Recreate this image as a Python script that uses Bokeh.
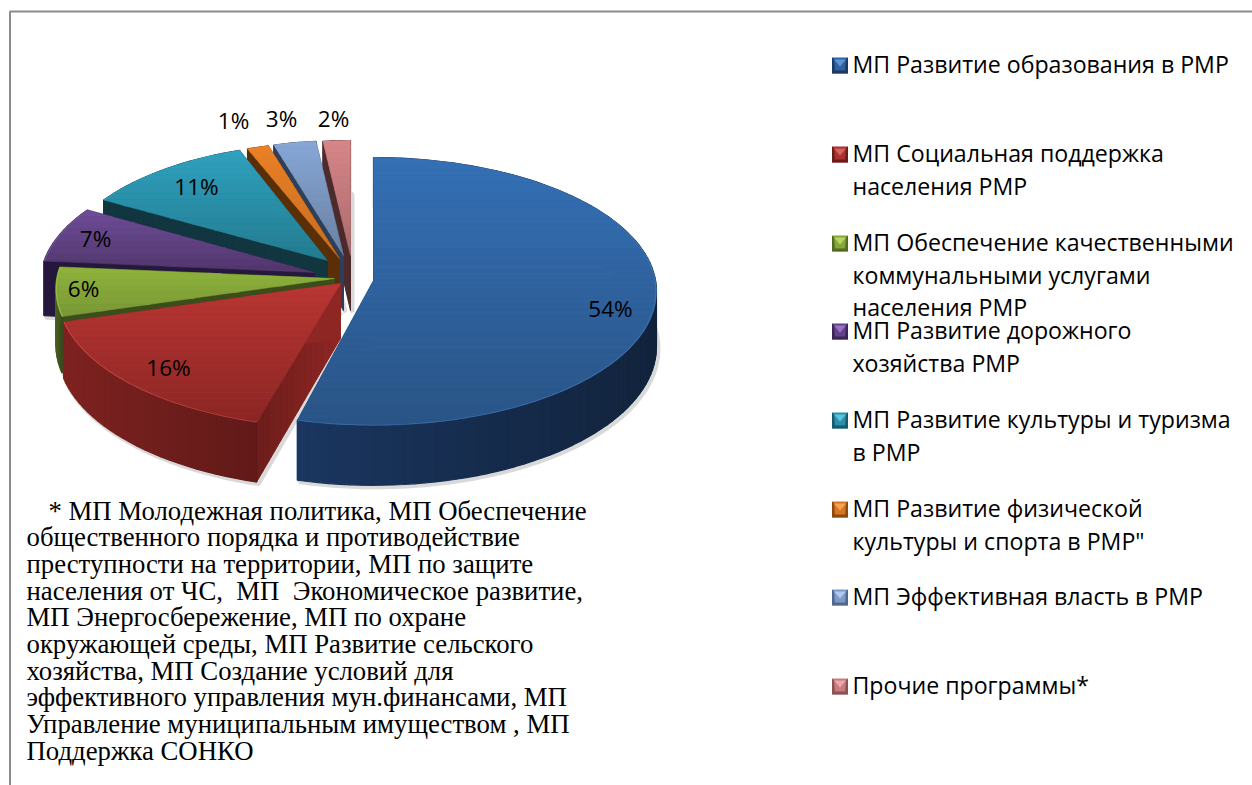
import math
from bokeh.plotting import figure
from bokeh.models import Range1d, ColumnDataSource
from bokeh.core.properties import value
from bokeh.embed import file_html
from bokeh.resources import INLINE

# ---------- data ----------
categories = ["МП Развитие образования в РМР", "МП Социальная поддержка населения РМР",
              "МП Обеспечение качественными коммунальными услугами населения РМР",
              "МП Развитие дорожного хозяйства РМР", "МП Развитие культуры и туризма в РМР",
              "МП Развитие физической культуры и спорта в РМР\"", "МП Эффективная власть в РМР",
              "Прочие программы*"]
shares = [54, 16, 6, 7, 11, 1.4, 2.8, 1.8]

legend_lines = [["МП Развитие образования в РМР"],
                ["МП Социальная поддержка", "населения РМР"],
                ["МП Обеспечение качественными", "коммунальными услугами", "населения РМР"],
                ["МП Развитие дорожного", "хозяйства РМР"],
                ["МП Развитие культуры и туризма", "в РМР"],
                ["МП Развитие физической", "культуры и спорта в РМР\""],
                ["МП Эффективная власть в РМР"],
                ["Прочие программы*"]]
note_lines = ["* МП Молодежная политика, МП Обеспечение",
              "общественного порядка и противодействие",
              "преступности на территории, МП по защите",
              "населения от ЧС,\u00a0 МП\u00a0 Экономическое развитие,",
              "МП Энергосбережение, МП по охране",
              "окружающей среды, МП Развитие сельского",
              "хозяйства, МП Создание условий для",
              "эффективного управления мун.финансами, МП",
              "Управление муниципальным имуществом , МП",
              "Поддержка СОНКО"]

# ---------- layout and style ----------
apex_x = [373, 340, 334, 314, 327, 339, 343, 350]
apex_y = [280, 283, 278, 272, 260, 258, 255, 255]
radius = [1.0, 1.0, 0.985, 0.97, 0.95, 0.95, 0.93, 0.93]
turn = [0, 1.5, 1.5, 1.5, 1.0, 0, 0, 0]
label_x = [610, 168, 83, 95, 196, 233, 281, 333]
label_y = [308, 367, 288, 238, 186, 120, 118, 118]
top_a = ["#3470B5", "#B83633", "#8EB13C", "#6C4C96", "#2FA0BE", "#E98026", "#86A6D6", "#D68587"]
top_b = ["#2A5486", "#8C2624", "#7A9936", "#52376D", "#237C90", "#C86E20", "#6A81A2", "#A96B6D"]
rim = ["#3872B2", "#C04540", "#98BA48", "#74549A", "#34A4C0", "#EE8A30", "#90AEDC", "#DC9092"]
wall_a = ["#1A3660", "#7E2220", "#4A5F22", "#25183C", "#123640", "#5A2F08", "#2F3F5A", "#4D2B2C"]
wall_b = ["#12233C", "#611A18", "#3A4A1A", "#25183C", "#123640", "#5A2F08", "#2F3F5A", "#4D2B2C"]
edge_a = ["#1A3660", "#8E2623", "#3C4D1C", "#25183C", "#113640", "#5A2F08", "#2F3F5A", "#4D2B2C"]
edge_b = ["#1A3660", "#6B1D1B", "#3C4D1C", "#25183C", "#113640", "#5A2F08", "#2F3F5A", "#4D2B2C"]
sw_top = ["#5B93D3", "#D9605C", "#B6D65E", "#9A74C4", "#56C4DE", "#F5A550", "#B0C8EC", "#EAAAAC"]
sw_mid = ["#2F62A0", "#A8302E", "#84A63A", "#63428A", "#2A90AA", "#D87520", "#7C9AC8", "#C87C7E"]
sw_bot = ["#1C3A64", "#6A1C1A", "#556B24", "#3A2654", "#175A6C", "#8A4A10", "#50688E", "#8A5456"]
legend_y = [65, 154, 243, 331, 420, 509, 597, 686]
legend_step = [0, 33, 32]

A, B, P, D = 282.0, 133.0, 0.082, 55.0


def hex2rgb(c):
    return tuple(int(c[i:i + 2], 16) for i in (1, 3, 5))


def mix(a, b, t):
    t = max(0.0, min(1.0, t))
    ra, rb = hex2rgb(a), hex2rgb(b)
    return "#%02x%02x%02x" % tuple(round(x + (y - x) * t) for x, y in zip(ra, rb))


def pt(ax, ay, deg, r, low=0.0):
    th = math.radians(deg)
    u, v = r * math.sin(th), r * math.cos(th)
    w = 1 + P * v
    return ax + A * u / w, ay - B * v / w + D * low / w


def clip_band(poly, y0, y1):
    def clip(pts, keep, cross):
        out = []
        for i, p in enumerate(pts):
            q = pts[(i + 1) % len(pts)]
            kp, kq = keep(p), keep(q)
            if kp:
                out.append(p)
            if kp != kq:
                t = (cross - p[1]) / (q[1] - p[1])
                out.append((p[0] + (q[0] - p[0]) * t, cross))
        return out
    res = clip(poly, lambda p: p[1] >= y0, y0)
    if res:
        res = clip(res, lambda p: p[1] <= y1, y1)
    return res


xs, ys, cols, lws = [], [], [], []


def add(poly, color, lw=0.5):
    xs.append([p[0] for p in poly])
    ys.append([p[1] for p in poly])
    cols.append(color)
    lws.append(lw)


shadow_x, shadow_y = [], []
angles = []
acc = 0.0
for i, s in enumerate(shares):
    angles.append((acc * 3.6 + turn[i], (acc + s) * 3.6 + turn[i]))
    acc += s


def arc(i, low, step=1.0):
    a0, a1 = angles[i]
    n = max(2, int((a1 - a0) / step) + 1)
    return [pt(apex_x[i], apex_y[i], a0 + (a1 - a0) * k / (n - 1), radius[i], low) for k in range(n)]


for i in range(len(shares)):
    bottom = [(apex_x[i], apex_y[i] + D)] + arc(i, 1.0)
    bottom.append(bottom[0])
    shadow_x.append([p[0] + 2 for p in bottom])
    shadow_y.append([p[1] + 2 for p in bottom])

order = [7, 6, 5, 4, 3, 2, 1, 0]
for i in order:
    ax, ay = apex_x[i], apex_y[i]
    a0, a1 = angles[i]
    corner = pt(ax, ay, a0, radius[i])
    cornerb = pt(ax, ay, a0, radius[i], 1.0)
    for k in range(14):
        t0, t1 = k / 14, (k + 1) / 14
        add([(ax + (corner[0] - ax) * t0, ay + (corner[1] - ay) * t0),
             (ax + (corner[0] - ax) * t1, ay + (corner[1] - ay) * t1),
             (ax + (cornerb[0] - ax) * t1, ay + D + (cornerb[1] - ay - D) * t1),
             (ax + (cornerb[0] - ax) * t0, ay + D + (cornerb[1] - ay - D) * t0)],
            mix(edge_a[i], edge_b[i], t0), 1.0)
    corner = pt(ax, ay, a1, radius[i])
    cornerb = pt(ax, ay, a1, radius[i], 1.0)
    add([(ax, ay), corner, cornerb, (ax, ay + D)], edge_a[i])
    up, lo = arc(i, 0.0, 2.0), arc(i, 1.0, 2.0)
    xmin, xmax = min(p[0] for p in up), max(p[0] for p in up)
    for k in range(len(up) - 1):
        t = (up[k][0] - xmin) / max(1.0, xmax - xmin)
        add([up[k], up[k + 1], lo[k + 1], lo[k]], mix(wall_a[i], wall_b[i], t), 1.2)
    face = [(ax, ay)] + arc(i, 0.0)
    y0, y1 = min(p[1] for p in face), max(p[1] for p in face)
    bands = max(4, int((y1 - y0) / 6))
    for k in range(bands):
        a = y0 + (y1 - y0) * k / bands
        b = y0 + (y1 - y0) * (k + 1) / bands + 0.6
        poly = clip_band(face, a, b)
        if len(poly) >= 3:
            add(poly, mix(top_a[i], top_b[i], k / (bands - 1)))
    inner = arc(i, 0.0)
    rim_r = radius[i] - 0.004
    n = len(inner)
    rim_in = [pt(ax, ay, a0 + (a1 - a0) * k / (n - 1), rim_r) for k in range(n)]
    add(inner + rim_in[::-1], rim[i], 0)

for i, yc in enumerate(legend_y):
    x0, x1, y0, y1 = 831.5, 847.5, yc - 8, yc + 8
    c = ((x0 + x1) / 2, (y0 + y1) / 2 + 1)
    add([(x0, y0), (x1, y0), (x1, y1), (x0, y1)], sw_mid[i], 0)
    add([(x0 + 2, y0 + 2), (x1 - 2, y0 + 2), c], sw_top[i], 0)
    add([(x0, y0), (x0 + 2, y0 + 2), (c[0] - 5, y1 - 2), (x0, y1)], sw_bot[i], 0)
    add([(x1, y0), (x1 - 2, y0 + 2), (c[0] + 5, y1 - 2), (x1, y1)], sw_bot[i], 0)
    add([(x0, y1), (x0 + 3, y1 - 3), (x1 - 3, y1 - 3), (x1, y1)], sw_bot[i], 0)

# ---------- figure ----------
p = figure(width=1252, height=785, output_backend="svg", toolbar_location=None,
           x_range=Range1d(0, 1252), y_range=Range1d(785, 0),
           x_axis_location=None, y_axis_location=None, min_border=0,
           outline_line_color=None, background_fill_color="white")
p.grid.visible = False

p.line([9.5, 9.5, 1252], [785, 11, 11], line_color="#8C8C8C", line_width=2)
p.multi_line(shadow_x, shadow_y, line_color="#777777", line_alpha=0.28, line_width=4)
p.patches("x", "y", source=ColumnDataSource(dict(x=xs, y=ys, c=cols, w=lws)),
          fill_color="c", line_color="c", line_width="w")

labels = ["%d%%" % round(s) for s in shares]
p.text(label_x, label_y, text=labels, text_font=value("Open Sans"), text_font_size="22.5px",
       text_align="center", text_baseline="middle", text_color="#000000")

lx, ly, lt = [], [], []
for yc, lines in zip(legend_y, legend_lines):
    y = yc - 1.5
    for j, t in enumerate(lines):
        y += legend_step[j]
        lx.append(852)
        ly.append(y)
        lt.append(t)
p.text(lx, ly, text=lt, text_font=value("Open Sans"), text_font_size="23.15px",
       text_align="left", text_baseline="middle", text_color="#000000")

nx = [48] + [26] * (len(note_lines) - 1)
ny = [510 + 26.67 * k for k in range(len(note_lines))]
p.text(nx, ny, text=note_lines, text_font=value("Liberation Serif"), text_font_size="26.75px",
       text_align="left", text_baseline="middle", text_color="#000000")

open("out.html", "w").write(file_html(p, INLINE))
